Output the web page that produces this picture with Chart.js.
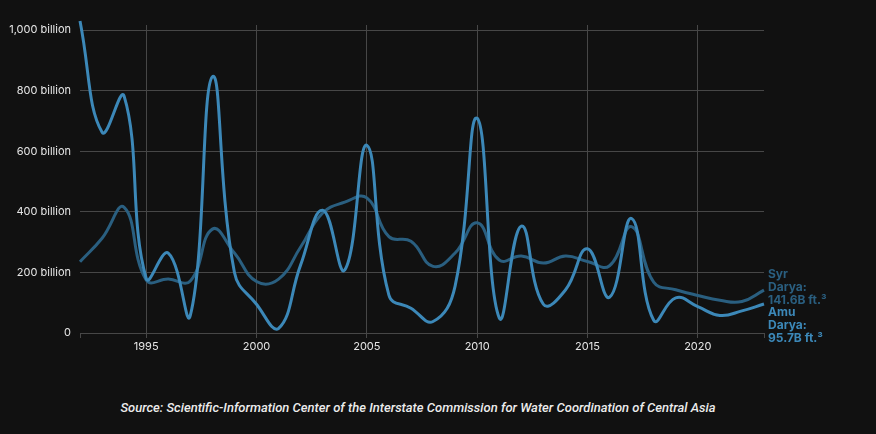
<!DOCTYPE html>
<html>
<head>
<meta charset="utf-8">
<script src="https://cdn.jsdelivr.net/npm/chart.js@4"></script>
<style>
  html, body { margin: 0; padding: 0; background: #111111; }
  #wrap { position: relative; width: 876px; height: 434px; background: #111111; }
  #box { position: absolute; left: 0; top: 0; width: 876px; height: 360px; }
  #source {
    position: absolute; left: 0; width: 836px; top: 400px; text-align: center;
    font-family: Roboto, sans-serif; font-style: italic; font-weight: 500; font-size: 13px; color: #ececec;
  }
</style>
</head>
<body>
<div id="wrap">
  <div id="box"><canvas id="riverChart"></canvas></div>
  <div id="source">Source: Scientific-Information Center of the Interstate Commission for Water Coordination of Central Asia</div>
</div>
<script>
// annual flow, billion cubic feet
var years = [1992, 1993, 1994, 1995, 1996, 1997, 1998, 1999, 2000, 2001, 2002, 2003, 2004, 2005, 2006, 2007,
             2008, 2009, 2010, 2011, 2012, 2013, 2014, 2015, 2016, 2017, 2018, 2019, 2020, 2021, 2022, 2023]
var amuDarya = [1030, 663, 782, 180, 264, 58, 846, 200, 95, 15, 225, 405, 208, 620, 125, 82,
                38, 155, 709, 50, 353, 95, 142, 278, 118, 378, 42, 116, 87, 58, 73, 95.7]
var syrDarya = [235, 313, 415, 175, 178, 172, 343, 264, 170, 178, 284, 396, 432, 446, 318, 303,
                220, 264, 364, 241, 254, 231, 254, 236, 222, 351, 168, 143, 124, 108, 104, 141.6]
var yTicks = [0, 200, 400, 600, 800, 1000]
var syrLabel = ['Syr', 'Darya:', '141.6B ft.³']
var amuLabel = ['Amu', 'Darya:', '95.7B ft.³']

var amuColor = '#3c88b8'
var syrColor = '#2a5f80'
var gridColor = '#474747'

function toPoints(values){
    var list = []
    for(var pos = 0; pos < years.length; pos++){
        list.push({x: years[pos], y: values[pos]})
    }
    return list
}

// end labels on the right side of the plot
var endLabels = {
    id: 'endLabels',
    afterDatasetsDraw(chart){
        var ctx = chart.ctx
        var x = chart.chartArea.right + 4
        var y = chart.scales.y.getPixelForValue(200) + 2
        ctx.save()
        ctx.font = 'bold 12px Inter, sans-serif'
        ctx.textBaseline = 'middle'
        ctx.textAlign = 'left'
        ctx.fillStyle = syrColor
        syrLabel.forEach((line, i) => ctx.fillText(line, x, y + i * 12.8))
        ctx.fillStyle = amuColor
        amuLabel.forEach((line, i) => ctx.fillText(line, x, y + (i + 3) * 12.8))
        ctx.restore()
    }
}

new Chart(document.getElementById('riverChart'), {
    type: 'line',
    data: {
        datasets: [{
            label: 'Amu Darya',
            data: toPoints(amuDarya),
            borderColor: amuColor,
            borderWidth: 3,
            tension: 0.45,
            pointRadius: 0,
            clip: false
        }, {
            label: 'Syr Darya',
            data: toPoints(syrDarya),
            borderColor: syrColor,
            borderWidth: 3,
            tension: 0.45,
            pointRadius: 0,
            clip: false
        }]
    },
    plugins: [endLabels],
    options: {
        responsive: true,
        maintainAspectRatio: false,
        animation: false,
        layout: { padding: { top: 25, right: 112, left: 0, bottom: 0 } },
        plugins: {
            legend: { display: false },
            tooltip: { enabled: false }
        },
        scales: {
            x: {
                type: 'linear',
                min: 1992,
                max: 2023,
                afterFit(scale){ scale.height = 27 },
                border: { display: false },
                grid: {
                    color: (c) => (c.tick && c.tick.value % 5 === 0 ? gridColor : 'rgba(0,0,0,0)'),
                    tickColor: gridColor,
                    tickLength: 5,
                    lineWidth: 1
                },
                ticks: {
                    stepSize: 5,
                    autoSkip: false,
                    maxRotation: 0,
                    padding: 2,
                    color: '#e6e6e6',
                    font: { family: 'Inter', size: 11 },
                    callback: (v) => (v % 5 === 0 ? String(v) : '')
                }
            },
            y: {
                min: 0,
                max: 1017,
                afterFit(scale){ scale.width = 80 },
                afterBuildTicks(scale){ scale.ticks = yTicks.map((v) => ({value: v})) },
                border: { display: false },
                grid: { color: gridColor, drawTicks: false, lineWidth: 1 },
                ticks: {
                    padding: 9,
                    color: '#e6e6e6',
                    font: { family: 'Inter', size: 11 },
                    callback: (v) => (v === 0 ? '0' : v.toLocaleString('en-US') + ' billion')
                }
            }
        }
    }
})
</script>
</body>
</html>
